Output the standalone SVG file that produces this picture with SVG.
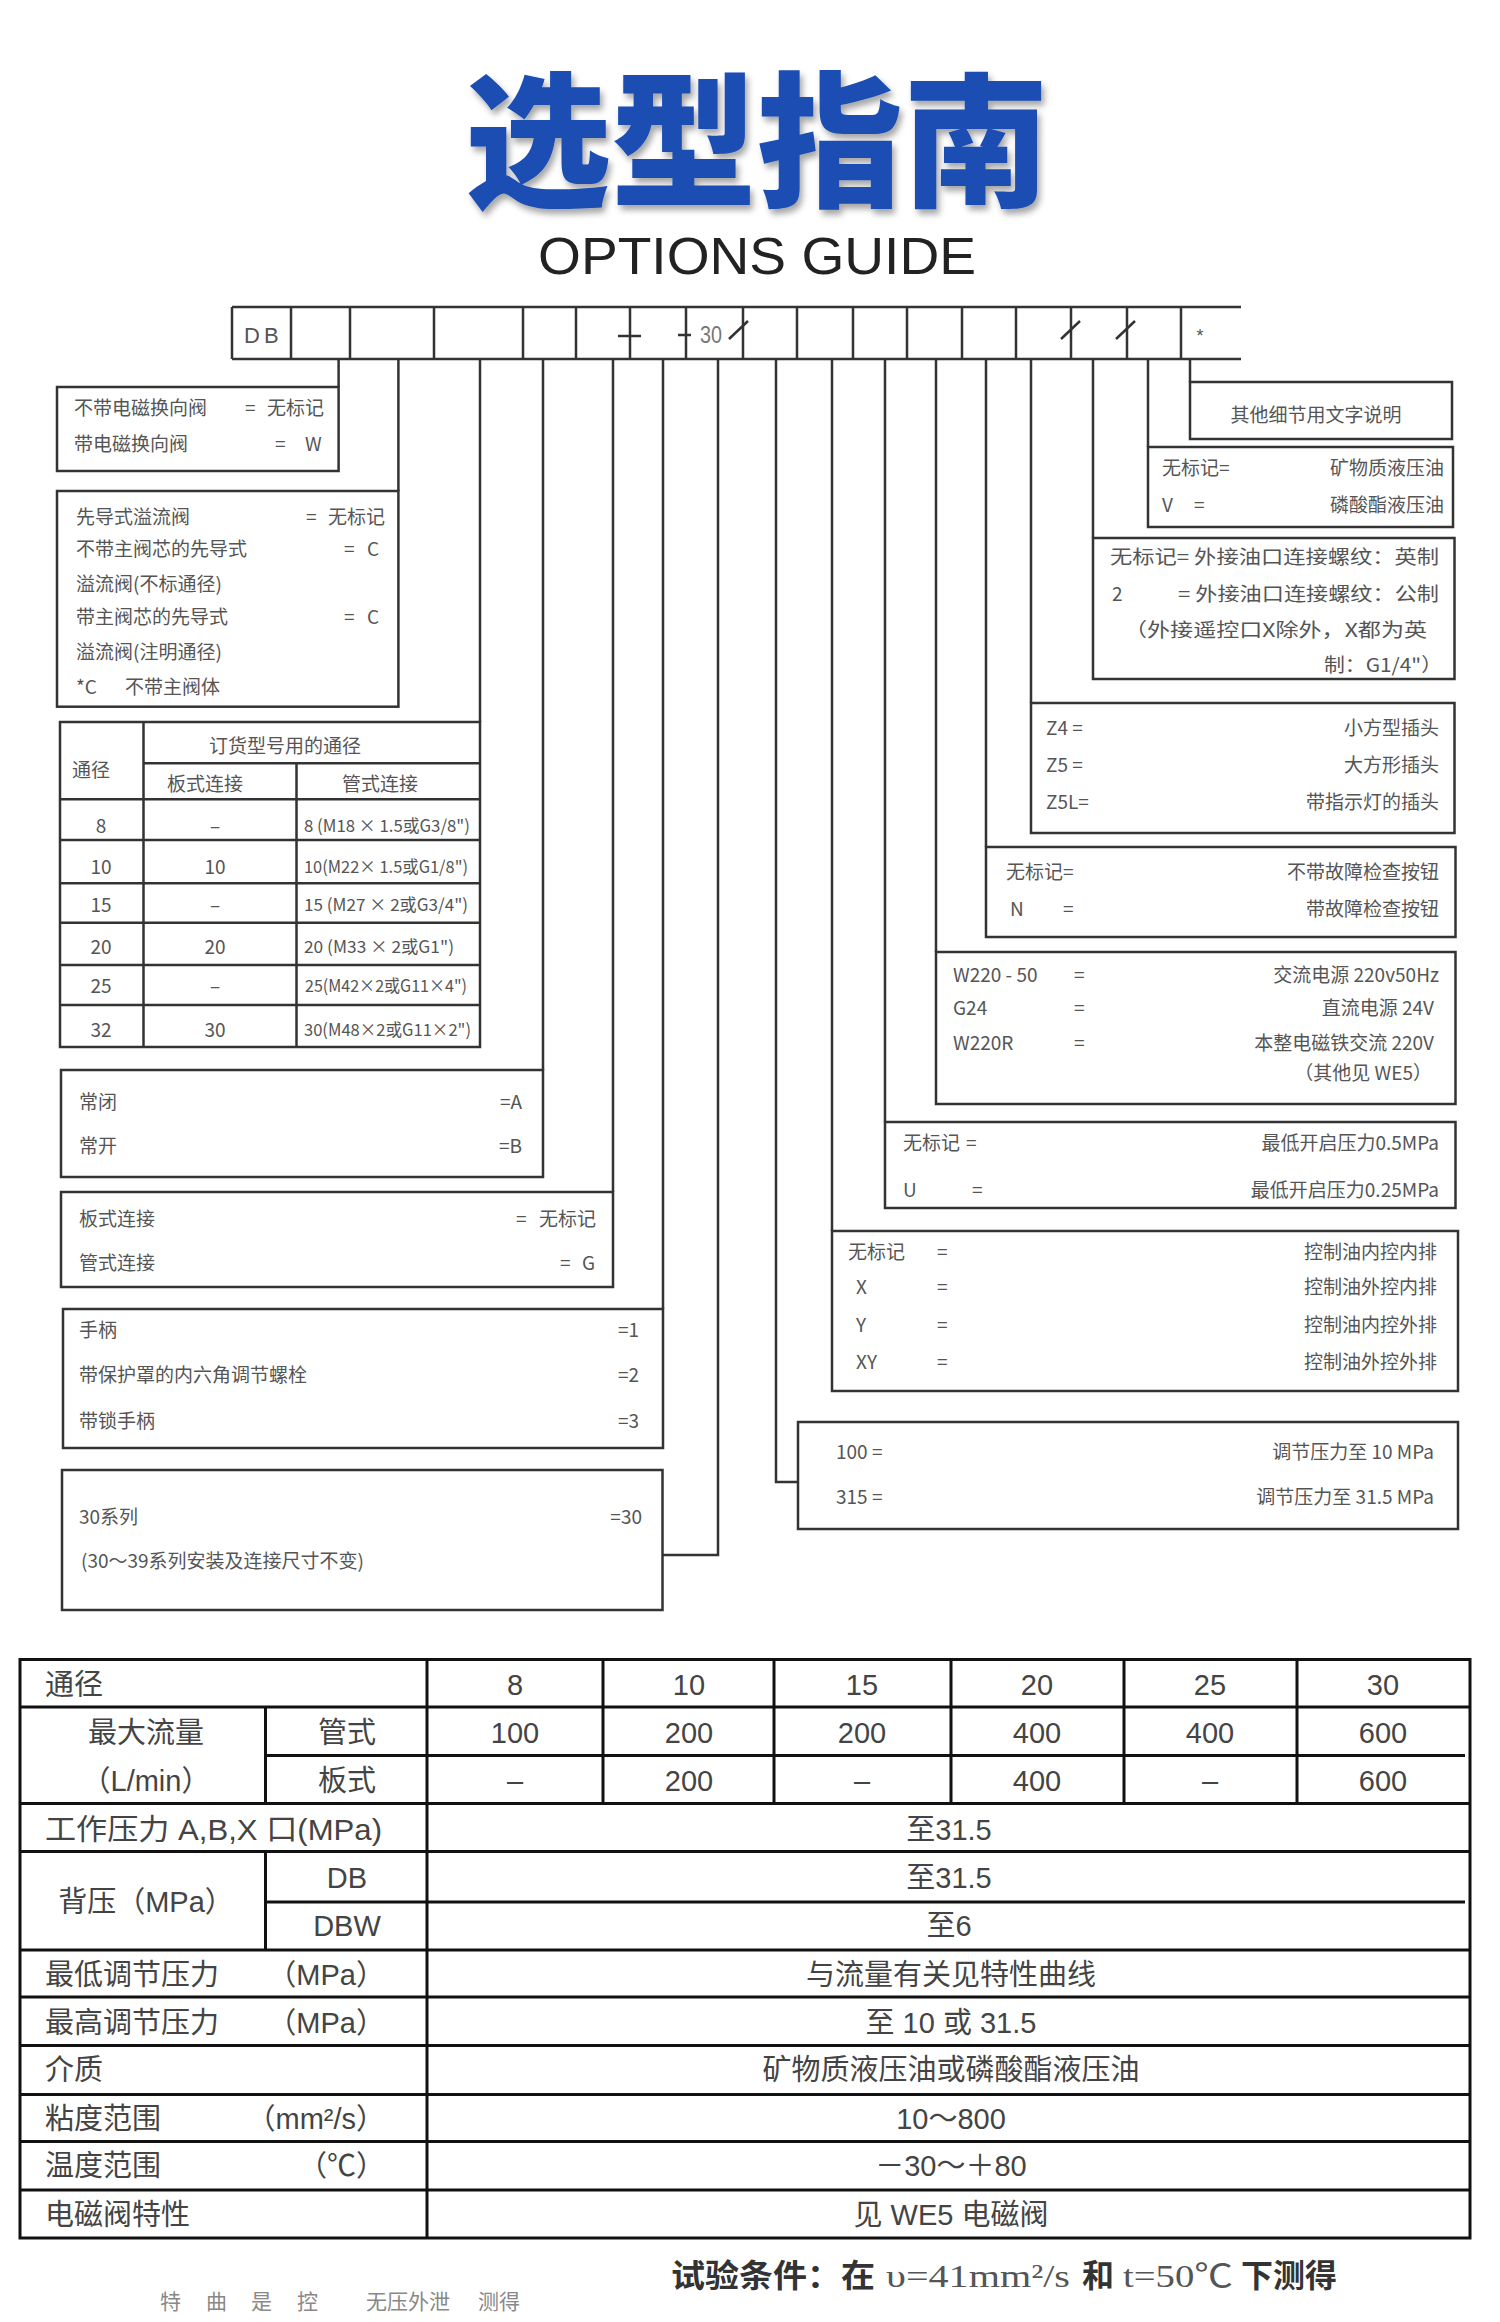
<svg xmlns="http://www.w3.org/2000/svg" width="1500" height="2322" viewBox="0 0 1500 2322">
<defs>
<filter id="sh" x="-10%" y="-10%" width="130%" height="140%">
<feDropShadow dx="3" dy="5" stdDeviation="3" flood-color="#000" flood-opacity="0.35"/>
</filter>
</defs>
<style>
.bx{fill:none;stroke:#333;stroke-width:2.5}
.ln{fill:none;stroke:#333;stroke-width:2.5}
.tk{fill:none;stroke:#111;stroke-width:3}
.t{font-family:"Noto Sans CJK SC","Liberation Sans",sans-serif;font-size:19px;fill:#555}
.s{font-size:17px}
.e{text-anchor:end}
.m{text-anchor:middle}
.tb{font-family:"Liberation Sans","Noto Sans CJK SC",sans-serif;font-size:29px;fill:#444}
.bd{font-family:"Noto Sans CJK SC",sans-serif;font-weight:bold;font-size:32px;fill:#333}
.sf{font-family:"Liberation Serif","Noto Sans CJK SC",serif;font-size:32px;fill:#555}
</style>
<rect width="1500" height="2322" fill="#fff"/>

<g id="title">
<text x="757" y="195" text-anchor="middle" font-family="Noto Sans CJK SC, sans-serif" font-weight="900" font-size="146" fill="#1a4db3" filter="url(#sh)">选型指南</text>
<text x="757" y="274" text-anchor="middle" font-family="Liberation Sans, Arial, sans-serif" font-size="51" fill="#222" textLength="438" lengthAdjust="spacingAndGlyphs">OPTIONS GUIDE</text>
</g>

<g id="header">
<path class="ln" d="M232 307H1241M232 359H1241M232 307V359M291 307V359M350 307V359M434 307V359M523 307V359M576 307V359M630 307V359M686 307V359M743 307V359M797 307V359M853 307V359M907 307V359M962 307V359M1016 307V359M1071 307V359M1127 307V359M1181 307V359"/>
<path class="ln" d="M618 336H641M678 335H691M729 339L748 321M1061 339L1080 321M1116 339L1135 321"/>
<text x="244" y="343" font-family="Liberation Sans, sans-serif" font-size="22" fill="#555" letter-spacing="4">DB</text>
<text x="700" y="343" font-family="Liberation Sans, sans-serif" font-size="24" fill="#777" textLength="22" lengthAdjust="spacingAndGlyphs">30</text>
<text x="1200" y="342" text-anchor="middle" font-family="Liberation Sans, sans-serif" font-size="18" fill="#555">*</text>
</g>

<g id="connectors">
<path class="ln" d="M338.6 359V387M398.4 359V491M480 359V722M543 359V1070M613 359V1192M663 359V1309M718 359V1555H662.5"/>
<path class="ln" d="M776 359V1482H798M832 359V1231M885 359V1122M936 359V952M986 359V847M1031 359V703M1093 359V538M1148 359V447M1190 359V382"/>
</g>

<g id="box-solenoid">
<rect class="bx" x="57" y="387" width="281.6" height="84"/>
<text class="t" x="74" y="415">不带电磁换向阀</text>
<text class="t" x="245" y="415">=</text>
<text class="t" x="267" y="415">无标记</text>
<text class="t" x="74" y="451">带电磁换向阀</text>
<text class="t" x="275" y="451">=</text>
<text class="t" x="305" y="451">W</text>
</g>

<g id="box-type">
<rect class="bx" x="57" y="491" width="341.4" height="215.7"/>
<text class="t" x="76" y="524">先导式溢流阀</text>
<text class="t" x="306" y="524">=</text>
<text class="t" x="328" y="524">无标记</text>
<text class="t" x="76" y="556">不带主阀芯的先导式</text>
<text class="t" x="344" y="556">=</text>
<text class="t" x="367" y="556">C</text>
<text class="t" x="76" y="591">溢流阀(不标通径)</text>
<text class="t" x="76" y="624">带主阀芯的先导式</text>
<text class="t" x="344" y="624">=</text>
<text class="t" x="367" y="624">C</text>
<text class="t" x="76" y="659">溢流阀(注明通径)</text>
<text class="t" x="76" y="694">*C</text>
<text class="t" x="125" y="694">不带主阀体</text>
</g>

<g id="table-size">
<rect class="bx" x="60" y="722" width="420" height="325"/>
<path class="ln" d="M143.5 722V1047M143.5 763.3H480M60 799.3H480M296.5 763.3V1047M60 840H480M60 883.3H480M60 922.7H480M60 965H480M60 1005H480"/>
<text class="t" x="91" y="777" text-anchor="middle">通径</text>
<text class="t" x="285" y="753" text-anchor="middle">订货型号用的通径</text>
<text class="t" x="205" y="791" text-anchor="middle">板式连接</text>
<text class="t" x="380" y="791" text-anchor="middle">管式连接</text>
<g class="t" text-anchor="middle" font-size="20">
<text x="101" y="833">8</text><text x="101" y="874">10</text><text x="101" y="912">15</text><text x="101" y="954">20</text><text x="101" y="993">25</text><text x="101" y="1037">32</text>
<text x="215" y="833">–</text><text x="215" y="874">10</text><text x="215" y="912">–</text><text x="215" y="954">20</text><text x="215" y="993">–</text><text x="215" y="1037">30</text>
</g>
<g class="t s">
<text x="304" y="832" textLength="166" lengthAdjust="spacingAndGlyphs">8 (M18 × 1.5或G3/8")</text>
<text x="304" y="873" textLength="164" lengthAdjust="spacingAndGlyphs">10(M22× 1.5或G1/8")</text>
<text x="304" y="911" textLength="164" lengthAdjust="spacingAndGlyphs">15 (M27 × 2或G3/4")</text>
<text x="304" y="953" textLength="150" lengthAdjust="spacingAndGlyphs">20 (M33 × 2或G1")</text>
<text x="305" y="992" textLength="162" lengthAdjust="spacingAndGlyphs">25(M42×2或G11×4")</text>
<text x="304" y="1036" textLength="167" lengthAdjust="spacingAndGlyphs">30(M48×2或G11×2")</text>
</g>
</g>

<g id="box-nc">
<rect class="bx" x="61" y="1070" width="482" height="107"/>
<text class="t" x="79" y="1109">常闭</text>
<text class="t e" x="522" y="1109">=A</text>
<text class="t" x="79" y="1153">常开</text>
<text class="t e" x="522" y="1153">=B</text>
</g>

<g id="box-conn">
<rect class="bx" x="61" y="1192" width="552" height="95"/>
<text class="t" x="79" y="1226">板式连接</text>
<text class="t" x="516" y="1226">=</text>
<text class="t" x="539" y="1226">无标记</text>
<text class="t" x="79" y="1270">管式连接</text>
<text class="t" x="560" y="1270">=</text>
<text class="t" x="582" y="1270">G</text>
</g>

<g id="box-adjust">
<rect class="bx" x="63" y="1309" width="600" height="139"/>
<text class="t" x="79" y="1337">手柄</text>
<text class="t e" x="639" y="1337">=1</text>
<text class="t" x="79" y="1382">带保护罩的内六角调节螺栓</text>
<text class="t e" x="639" y="1382">=2</text>
<text class="t" x="79" y="1428">带锁手柄</text>
<text class="t e" x="639" y="1428">=3</text>
</g>

<g id="box-series">
<rect class="bx" x="62" y="1470" width="600.5" height="140"/>
<text class="t" x="79" y="1524">30系列</text>
<text class="t e" x="642" y="1524">=30</text>
<text class="t" x="81" y="1568">(30～39系列安装及连接尺寸不变)</text>
</g>

<g id="box-other">
<rect class="bx" x="1190" y="382" width="262" height="57"/>
<text class="t m" x="1316" y="422">其他细节用文字说明</text>
</g>

<g id="box-fluid">
<rect class="bx" x="1148" y="447" width="305" height="80"/>
<text class="t" x="1162" y="475">无标记=</text>
<text class="t e" x="1444" y="475">矿物质液压油</text>
<text class="t" x="1162" y="512">V</text>
<text class="t" x="1194" y="512">=</text>
<text class="t e" x="1444" y="512">磷酸酯液压油</text>
</g>

<g id="box-thread">
<rect class="bx" x="1093" y="538" width="361.5" height="141"/>
<text class="t" x="1110" y="564" font-size="20" textLength="329" lengthAdjust="spacingAndGlyphs">无标记= 外接油口连接螺纹：英制</text>
<text class="t" x="1112" y="601" font-size="20">2</text>
<text class="t" x="1178" y="601" font-size="20" textLength="261" lengthAdjust="spacingAndGlyphs">= 外接油口连接螺纹：公制</text>
<text class="t" x="1124" y="637" font-size="20" textLength="303" lengthAdjust="spacingAndGlyphs">（外接遥控口X除外，X都为英</text>
<text class="t" x="1324" y="672" font-size="20" textLength="118" lengthAdjust="spacingAndGlyphs">制：G1/4"）</text>
</g>

<g id="box-plug">
<rect class="bx" x="1031" y="703" width="423.5" height="130"/>
<text class="t" x="1046" y="735">Z4 =</text>
<text class="t e" x="1439" y="735">小方型插头</text>
<text class="t" x="1046" y="772">Z5 =</text>
<text class="t e" x="1439" y="772">大方形插头</text>
<text class="t" x="1046" y="809">Z5L=</text>
<text class="t e" x="1439" y="809">带指示灯的插头</text>
</g>

<g id="box-button">
<rect class="bx" x="986" y="847" width="469.5" height="90"/>
<text class="t" x="1006" y="879">无标记=</text>
<text class="t e" x="1439" y="879">不带故障检查按钮</text>
<text class="t" x="1010" y="916">N</text>
<text class="t" x="1063" y="916">=</text>
<text class="t e" x="1439" y="916">带故障检查按钮</text>
</g>

<g id="box-power">
<rect class="bx" x="936" y="952" width="519.5" height="152"/>
<text class="t" x="953" y="982">W220 - 50</text>
<text class="t" x="1074" y="982">=</text>
<text class="t e" x="1439" y="982">交流电源 220v50Hz</text>
<text class="t" x="953" y="1015">G24</text>
<text class="t" x="1074" y="1015">=</text>
<text class="t e" x="1434" y="1015">直流电源 24V</text>
<text class="t" x="953" y="1050">W220R</text>
<text class="t" x="1074" y="1050">=</text>
<text class="t e" x="1434" y="1050">本整电磁铁交流 220V</text>
<text class="t e" x="1432" y="1080">（其他见 WE5）</text>
</g>

<g id="box-open">
<rect class="bx" x="885" y="1122" width="570.5" height="86"/>
<text class="t" x="903" y="1150">无标记</text>
<text class="t" x="966" y="1150">=</text>
<text class="t e" x="1439" y="1150">最低开启压力0.5MPa</text>
<text class="t" x="903" y="1197">U</text>
<text class="t" x="972" y="1197">=</text>
<text class="t e" x="1439" y="1197">最低开启压力0.25MPa</text>
</g>

<g id="box-pilot">
<rect class="bx" x="832" y="1231" width="626" height="160"/>
<text class="t" x="848" y="1259">无标记</text>
<text class="t" x="937" y="1259">=</text>
<text class="t e" x="1437" y="1259">控制油内控内排</text>
<text class="t" x="856" y="1294">X</text>
<text class="t" x="937" y="1294">=</text>
<text class="t e" x="1437" y="1294">控制油外控内排</text>
<text class="t" x="856" y="1332">Y</text>
<text class="t" x="937" y="1332">=</text>
<text class="t e" x="1437" y="1332">控制油内控外排</text>
<text class="t" x="856" y="1369">XY</text>
<text class="t" x="937" y="1369">=</text>
<text class="t e" x="1437" y="1369">控制油外控外排</text>
</g>

<g id="box-pressure">
<rect class="bx" x="798" y="1422" width="660" height="107"/>
<text class="t" x="836" y="1459">100 =</text>
<text class="t e" x="1434" y="1459">调节压力至 10 MPa</text>
<text class="t" x="836" y="1504">315 =</text>
<text class="t e" x="1434" y="1504">调节压力至 31.5 MPa</text>
</g>

<g id="spec-table">
<rect class="tk" x="20" y="1659.5" width="1450" height="578.5"/>
<path class="tk" d="M427 1659.5V2238M603 1659.5V1803.5M774 1659.5V1803.5M951 1659.5V1803.5M1124 1659.5V1803.5M1297 1659.5V1803.5M265.5 1707V1803.5M265.5 1851.5V1950"/>
<path class="tk" d="M20 1707H1470M265.5 1755.5H1465M20 1803.5H1470M20 1851.5H1470M265.5 1902H1465M20 1950H1470M20 1997H1470M20 2045.5H1470M20 2094.5H1470M20 2141.5H1470M20 2190H1470"/>
<g class="tb">
<text x="45" y="1695">通径</text>
<text class="m" x="515" y="1695">8</text><text class="m" x="689" y="1695">10</text><text class="m" x="862" y="1695">15</text><text class="m" x="1037" y="1695">20</text><text class="m" x="1210" y="1695">25</text><text class="m" x="1383" y="1695">30</text>
<text class="m" x="146" y="1743">最大流量</text>
<text class="m" x="347" y="1743">管式</text>
<text class="m" x="515" y="1743">100</text><text class="m" x="689" y="1743">200</text><text class="m" x="862" y="1743">200</text><text class="m" x="1037" y="1743">400</text><text class="m" x="1210" y="1743">400</text><text class="m" x="1383" y="1743">600</text>
<text class="m" x="146" y="1791">（L/min）</text>
<text class="m" x="347" y="1791">板式</text>
<text class="m" x="515" y="1791">–</text><text class="m" x="689" y="1791">200</text><text class="m" x="862" y="1791">–</text><text class="m" x="1037" y="1791">400</text><text class="m" x="1210" y="1791">–</text><text class="m" x="1383" y="1791">600</text>
<text x="45" y="1840" textLength="337" lengthAdjust="spacingAndGlyphs">工作压力 A,B,X 口(MPa)</text>
<text class="m" x="949" y="1840">至31.5</text>
<text class="m" x="146" y="1912">背压（MPa）</text>
<text class="m" x="347" y="1888">DB</text>
<text class="m" x="949" y="1888">至31.5</text>
<text class="m" x="347" y="1936">DBW</text>
<text class="m" x="949" y="1936">至6</text>
<text x="45" y="1985">最低调节压力</text>
<text class="e" x="385" y="1985">（MPa）</text>
<text class="m" x="951" y="1985">与流量有关见特性曲线</text>
<text x="45" y="2033">最高调节压力</text>
<text class="e" x="385" y="2033">（MPa）</text>
<text class="m" x="951" y="2033">至 10 或 31.5</text>
<text x="45" y="2080">介质</text>
<text class="m" x="951" y="2080">矿物质液压油或磷酸酯液压油</text>
<text x="45" y="2129">粘度范围</text>
<text class="e" x="385" y="2129">（mm²/s）</text>
<text class="m" x="951" y="2129">10～800</text>
<text x="45" y="2176">温度范围</text>
<text class="e" x="385" y="2176">（℃）</text>
<text class="m" x="951" y="2176">－30～＋80</text>
<text x="45" y="2225">电磁阀特性</text>
<text class="m" x="951" y="2225">见 WE5 电磁阀</text>
</g>
</g>

<g id="footer">
<text y="2287"><tspan class="bd" x="671" textLength="204" lengthAdjust="spacingAndGlyphs">试验条件：在</tspan><tspan class="sf" x="886" textLength="184" lengthAdjust="spacingAndGlyphs">υ=41mm²/s</tspan><tspan class="bd" x="1082">和</tspan><tspan class="sf" x="1123" textLength="110" lengthAdjust="spacingAndGlyphs">t=50℃</tspan><tspan class="bd" x="1241">下测得</tspan></text>
<text y="2309" font-family="Noto Sans CJK SC, sans-serif" font-size="21" fill="#888"><tspan x="160">特</tspan><tspan x="206">曲</tspan><tspan x="251">是</tspan><tspan x="297">控</tspan><tspan x="366">无压外泄</tspan><tspan x="478">测得</tspan></text>
</g>
</svg>
